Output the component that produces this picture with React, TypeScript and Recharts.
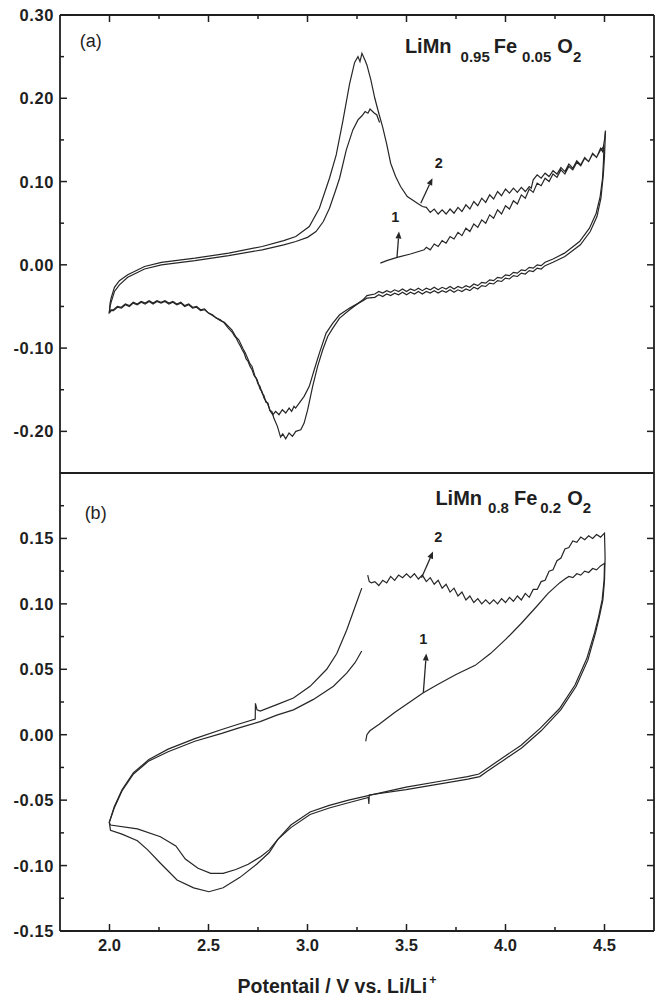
import React from 'react';
import { LineChart, Line, XAxis, YAxis, ReferenceDot, ReferenceLine, Label } from 'recharts';

type Pt = [number, number];

// ---------- Panel (a): LiMn0.95Fe0.05O2  [potential V, current] ----------
const aCycle1: Pt[] = [
  [3.368, 0.002], [3.40, 0.005], [3.453, 0.009], [3.52, 0.013], [3.589, 0.018],
  [3.60, 0.021], [3.62, 0.018], [3.64, 0.025], [3.66, 0.022], [3.68, 0.029], [3.70, 0.026], [3.72, 0.034],
  [3.74, 0.031], [3.76, 0.039], [3.78, 0.035], [3.80, 0.044], [3.82, 0.040], [3.84, 0.049], [3.86, 0.045],
  [3.88, 0.054], [3.90, 0.050], [3.92, 0.060], [3.94, 0.056], [3.96, 0.066], [3.98, 0.061], [4.00, 0.071],
  [4.02, 0.067], [4.04, 0.077], [4.06, 0.073], [4.08, 0.084], [4.10, 0.080], [4.12, 0.091], [4.14, 0.087],
  [4.16, 0.098], [4.18, 0.095], [4.20, 0.104], [4.22, 0.100], [4.24, 0.109], [4.26, 0.105], [4.28, 0.114],
  [4.30, 0.109], [4.32, 0.118], [4.34, 0.114], [4.36, 0.123], [4.38, 0.119], [4.40, 0.128], [4.42, 0.124],
  [4.44, 0.133], [4.46, 0.129], [4.48, 0.138], [4.497, 0.142],
  [4.495, 0.125], [4.49, 0.104], [4.478, 0.082], [4.458, 0.062], [4.424, 0.044], [4.374, 0.028],
  [4.298, 0.014], [4.24, 0.007],
  [4.20, 0.003], [4.18, -0.001], [4.16, 0.000], [4.14, -0.004], [4.12, -0.003], [4.10, -0.007], [4.08, -0.006],
  [4.06, -0.010], [4.04, -0.009], [4.02, -0.013], [4.00, -0.012], [3.98, -0.016], [3.96, -0.015], [3.94, -0.019],
  [3.92, -0.018], [3.90, -0.022], [3.88, -0.021], [3.86, -0.025], [3.84, -0.023], [3.82, -0.027], [3.80, -0.025],
  [3.78, -0.028], [3.76, -0.026], [3.74, -0.029], [3.72, -0.026], [3.70, -0.029], [3.68, -0.027], [3.66, -0.030],
  [3.64, -0.027], [3.62, -0.030], [3.60, -0.028], [3.58, -0.031], [3.56, -0.028], [3.54, -0.031], [3.52, -0.029],
  [3.50, -0.032], [3.48, -0.029], [3.46, -0.032], [3.44, -0.030], [3.42, -0.033], [3.40, -0.031], [3.38, -0.034],
  [3.36, -0.032], [3.34, -0.035], [3.30, -0.037], [3.28, -0.042],
  [3.213, -0.054], [3.162, -0.064], [3.128, -0.076], [3.102, -0.086], [3.077, -0.102], [3.051, -0.122],
  [3.026, -0.146], [3.001, -0.174], [2.983, -0.190], [2.966, -0.198], [2.941, -0.200], [2.924, -0.206],
  [2.907, -0.202], [2.89, -0.209], [2.875, -0.203], [2.864, -0.207], [2.848, -0.194],
  [2.83, -0.184], [2.82, -0.176], [2.81, -0.175], [2.80, -0.166], [2.79, -0.165], [2.78, -0.157], [2.77, -0.154],
  [2.76, -0.146], [2.75, -0.143], [2.74, -0.136], [2.73, -0.133], [2.72, -0.126], [2.71, -0.122], [2.70, -0.116],
  [2.69, -0.113], [2.68, -0.106], [2.67, -0.102], [2.66, -0.097], [2.65, -0.093], [2.64, -0.088], [2.63, -0.085],
  [2.62, -0.081], [2.60, -0.076], [2.58, -0.070],
  [2.56, -0.066], [2.54, -0.064], [2.52, -0.060], [2.50, -0.058], [2.48, -0.053], [2.46, -0.054], [2.44, -0.050],
  [2.42, -0.051], [2.40, -0.047], [2.38, -0.049], [2.36, -0.045], [2.34, -0.047], [2.32, -0.044], [2.30, -0.046],
  [2.28, -0.043], [2.26, -0.045], [2.24, -0.043], [2.22, -0.046], [2.20, -0.043], [2.18, -0.046], [2.16, -0.044],
  [2.14, -0.047], [2.12, -0.045], [2.10, -0.049], [2.08, -0.047], [2.06, -0.051], [2.04, -0.050], [2.02, -0.054],
  [2.008, -0.054], [1.999, -0.057],
  [2.003, -0.046], [2.008, -0.040], [2.025, -0.027], [2.05, -0.019], [2.092, -0.012], [2.177, -0.002],
  [2.262, 0.003], [2.432, 0.008], [2.602, 0.014], [2.771, 0.022], [2.88, 0.029], [2.941, 0.034],
  [3.009, 0.046], [3.06, 0.068], [3.111, 0.104], [3.145, 0.132], [3.178, 0.172], [3.213, 0.218],
  [3.238, 0.243], [3.255, 0.250], [3.265, 0.244], [3.275, 0.254], [3.29, 0.246], [3.30, 0.240],
  [3.32, 0.222], [3.34, 0.200], [3.36, 0.182], [3.38, 0.165], [3.40, 0.145], [3.42, 0.122],
  [3.445, 0.106], [3.47, 0.094], [3.504, 0.082], [3.555, 0.074], [3.58, 0.070],
  [3.60, 0.069], [3.62, 0.063], [3.64, 0.067], [3.66, 0.061], [3.68, 0.066], [3.70, 0.061], [3.72, 0.067],
  [3.74, 0.062], [3.76, 0.069], [3.78, 0.064], [3.80, 0.072], [3.82, 0.067], [3.84, 0.076], [3.86, 0.071],
  [3.88, 0.080], [3.90, 0.075], [3.92, 0.084], [3.94, 0.079], [3.96, 0.088], [3.98, 0.083], [4.00, 0.091],
  [4.02, 0.086], [4.04, 0.092], [4.06, 0.087], [4.08, 0.093], [4.10, 0.088], [4.12, 0.094], [4.13, 0.092],
  [4.14, 0.102], [4.16, 0.108], [4.18, 0.104], [4.20, 0.110], [4.22, 0.106], [4.24, 0.113], [4.26, 0.109],
  [4.28, 0.117], [4.30, 0.112], [4.32, 0.121], [4.34, 0.116], [4.36, 0.125], [4.38, 0.120], [4.40, 0.129],
  [4.42, 0.124], [4.44, 0.134], [4.46, 0.129], [4.48, 0.140], [4.49, 0.136], [4.50, 0.150], [4.505, 0.161],
];

const aCycle2: Pt[] = [
  [4.505, 0.161], [4.50, 0.130], [4.494, 0.108], [4.482, 0.080], [4.462, 0.058], [4.428, 0.040],
  [4.378, 0.024], [4.30, 0.010], [4.24, 0.003],
  [4.20, -0.001], [4.18, -0.005], [4.16, -0.004], [4.14, -0.008], [4.12, -0.007], [4.10, -0.011], [4.08, -0.010],
  [4.06, -0.014], [4.04, -0.013], [4.02, -0.017], [4.00, -0.016], [3.98, -0.020], [3.96, -0.019], [3.94, -0.023],
  [3.92, -0.022], [3.90, -0.026], [3.88, -0.025], [3.86, -0.029], [3.84, -0.027], [3.82, -0.031], [3.80, -0.029],
  [3.78, -0.032], [3.76, -0.030], [3.74, -0.033], [3.72, -0.030], [3.70, -0.033], [3.68, -0.031], [3.66, -0.034],
  [3.64, -0.031], [3.62, -0.034], [3.60, -0.032], [3.58, -0.035], [3.56, -0.032], [3.54, -0.035], [3.52, -0.033],
  [3.50, -0.036], [3.48, -0.033], [3.46, -0.036], [3.44, -0.034], [3.42, -0.037], [3.40, -0.035], [3.38, -0.038],
  [3.36, -0.036], [3.34, -0.039], [3.30, -0.040], [3.28, -0.043],
  [3.213, -0.052], [3.162, -0.060], [3.128, -0.070], [3.094, -0.082], [3.06, -0.106], [3.034, -0.126],
  [3.009, -0.146], [2.983, -0.158], [2.958, -0.166], [2.94, -0.172], [2.932, -0.170], [2.92, -0.176],
  [2.907, -0.172], [2.89, -0.178], [2.873, -0.174], [2.856, -0.180], [2.839, -0.176], [2.825, -0.180],
  [2.813, -0.176], [2.797, -0.166], [2.78, -0.160], [2.77, -0.152], [2.76, -0.149], [2.746, -0.138],
  [2.735, -0.134], [2.72, -0.122], [2.71, -0.119], [2.686, -0.106], [2.675, -0.101], [2.653, -0.090],
  [2.64, -0.087], [2.618, -0.078], [2.58, -0.069],
  [2.56, -0.067], [2.54, -0.064], [2.52, -0.061], [2.50, -0.058], [2.48, -0.054], [2.46, -0.055], [2.44, -0.051],
  [2.42, -0.052], [2.40, -0.048], [2.38, -0.050], [2.36, -0.046], [2.34, -0.048], [2.32, -0.045], [2.30, -0.047],
  [2.28, -0.044], [2.26, -0.046], [2.24, -0.044], [2.22, -0.047], [2.20, -0.044], [2.18, -0.047], [2.16, -0.045],
  [2.14, -0.048], [2.12, -0.046], [2.10, -0.050], [2.08, -0.048], [2.06, -0.052], [2.04, -0.051], [2.02, -0.055],
  [2.008, -0.055], [1.999, -0.058],
  [2.003, -0.050], [2.008, -0.045], [2.025, -0.032], [2.05, -0.024], [2.092, -0.015], [2.177, -0.005],
  [2.262, 0.000], [2.432, 0.005], [2.602, 0.011], [2.771, 0.018], [2.88, 0.024], [2.941, 0.028],
  [3.0, 0.033], [3.043, 0.040], [3.08, 0.052], [3.111, 0.068], [3.14, 0.088], [3.162, 0.104],
  [3.196, 0.138], [3.229, 0.162], [3.255, 0.174], [3.275, 0.179], [3.291, 0.184], [3.305, 0.182],
  [3.316, 0.187], [3.334, 0.183], [3.35, 0.180], [3.364, 0.171],
];

// ---------- Panel (b): LiMn0.8Fe0.2O2 ----------
const bCycle1: Pt[] = [
  [3.294, -0.005], [3.300, 0.000], [3.315, 0.003], [3.362, 0.008], [3.44, 0.017], [3.517, 0.025],
  [3.585, 0.032], [3.653, 0.038], [3.75, 0.046], [3.847, 0.053], [3.924, 0.062], [4.002, 0.073],
  [4.079, 0.085], [4.157, 0.098], [4.215, 0.108], [4.273, 0.116],
  [4.30, 0.119], [4.32, 0.121], [4.34, 0.120], [4.36, 0.123], [4.38, 0.122], [4.40, 0.125], [4.42, 0.124],
  [4.44, 0.127], [4.46, 0.126], [4.48, 0.129], [4.50, 0.131],
  [4.498, 0.118], [4.488, 0.103], [4.47, 0.090], [4.45, 0.078], [4.41, 0.058], [4.351, 0.038],
  [4.273, 0.020], [4.176, 0.005], [4.079, -0.008], [3.982, -0.018], [3.905, -0.026], [3.866, -0.030],
  [3.808, -0.032], [3.692, -0.035], [3.498, -0.040], [3.323, -0.046], [3.207, -0.050], [3.11, -0.054],
  [3.013, -0.059], [2.916, -0.069], [2.85, -0.080], [2.807, -0.090], [2.743, -0.099], [2.659, -0.109],
  [2.574, -0.117], [2.502, -0.120], [2.425, -0.117], [2.341, -0.111], [2.256, -0.098], [2.193, -0.088],
  [2.141, -0.081], [2.063, -0.076], [2.005, -0.073], [1.999, -0.067],
  [2.024, -0.055], [2.063, -0.042], [2.121, -0.029], [2.199, -0.019], [2.296, -0.011], [2.431, -0.003],
  [2.567, 0.004], [2.65, 0.008], [2.736, 0.012], [2.737, 0.024], [2.745, 0.019], [2.761, 0.018],
  [2.845, 0.023], [2.929, 0.028], [3.013, 0.037], [3.097, 0.050], [3.148, 0.062], [3.198, 0.080],
  [3.248, 0.101], [3.274, 0.112],
];

const bCycle2: Pt[] = [
  [3.304, 0.122], [3.312, 0.117], [3.323, 0.116],
  [3.34, 0.117], [3.36, 0.114], [3.38, 0.118], [3.40, 0.116], [3.42, 0.121], [3.44, 0.118], [3.46, 0.122],
  [3.48, 0.120], [3.50, 0.123], [3.52, 0.120], [3.54, 0.123], [3.56, 0.119], [3.58, 0.122], [3.60, 0.117],
  [3.62, 0.120], [3.64, 0.115], [3.66, 0.118], [3.68, 0.112], [3.70, 0.115], [3.72, 0.109], [3.74, 0.112],
  [3.76, 0.106], [3.78, 0.109], [3.80, 0.103], [3.82, 0.106], [3.84, 0.101], [3.86, 0.104], [3.88, 0.100],
  [3.90, 0.103], [3.92, 0.100], [3.94, 0.103], [3.96, 0.100], [3.98, 0.104], [4.00, 0.101], [4.02, 0.105],
  [4.04, 0.102], [4.06, 0.106], [4.08, 0.103], [4.10, 0.108], [4.12, 0.105], [4.14, 0.111], [4.16, 0.111],
  [4.18, 0.117], [4.20, 0.118], [4.22, 0.125], [4.24, 0.126], [4.26, 0.133], [4.28, 0.135], [4.30, 0.142],
  [4.32, 0.143], [4.34, 0.148], [4.36, 0.147], [4.38, 0.151], [4.40, 0.149], [4.42, 0.152], [4.44, 0.150],
  [4.46, 0.153], [4.48, 0.151], [4.50, 0.154],
  [4.503, 0.135], [4.50, 0.118], [4.492, 0.103], [4.474, 0.090], [4.455, 0.078], [4.416, 0.057],
  [4.357, 0.037], [4.279, 0.019], [4.18, 0.003], [4.083, -0.010], [3.985, -0.020], [3.908, -0.028],
  [3.87, -0.032], [3.81, -0.034], [3.692, -0.037], [3.498, -0.042], [3.312, -0.046], [3.31, -0.053],
  [3.307, -0.048], [3.207, -0.052], [3.11, -0.056], [3.013, -0.061], [2.916, -0.071], [2.85, -0.080],
  [2.807, -0.088], [2.765, -0.093], [2.701, -0.099], [2.638, -0.103], [2.574, -0.106], [2.511, -0.106],
  [2.447, -0.102], [2.383, -0.095], [2.335, -0.085], [2.257, -0.078], [2.141, -0.072], [2.005, -0.069],
  [1.999, -0.067],
  [2.024, -0.056], [2.063, -0.043], [2.121, -0.030], [2.199, -0.020], [2.296, -0.013], [2.431, -0.005],
  [2.567, 0.001], [2.65, 0.005], [2.761, 0.010], [2.845, 0.015], [2.929, 0.019], [3.03, 0.027],
  [3.131, 0.037], [3.198, 0.047], [3.24, 0.055], [3.274, 0.064],
];

// ---------- axes ----------
const xDomain: Pt = [1.75, 4.75];
const xTicks = [2.0, 2.25, 2.5, 2.75, 3.0, 3.25, 3.5, 3.75, 4.0, 4.25, 4.5];
const xMajor = [2.0, 2.5, 3.0, 3.5, 4.0, 4.5];
const aYDomain: Pt = [-0.25, 0.3];
const aYTicks = [-0.2, -0.15, -0.1, -0.05, 0, 0.05, 0.1, 0.15, 0.2, 0.25, 0.3];
const aYMajor = [-0.2, -0.1, 0, 0.1, 0.2, 0.3];
const bYDomain: Pt = [-0.15, 0.2];
const bYTicks = [-0.15, -0.125, -0.1, -0.075, -0.05, -0.025, 0, 0.025, 0.05, 0.075, 0.1, 0.125, 0.15, 0.175];
const bYMajor = [-0.15, -0.1, -0.05, 0, 0.05, 0.1, 0.15];

// ---------- annotations ----------
const aArrows: [Pt, Pt][] = [[[3.452, 0.009], [3.462, 0.040]], [[3.572, 0.074], [3.631, 0.104]]];
const aNumLabels: [string, number, number][] = [['1', 3.444, 0.058], ['2', 3.663, 0.122]];
const bArrows: [Pt, Pt][] = [[[3.585, 0.032], [3.600, 0.062]], [[3.576, 0.120], [3.634, 0.140]]];
const bNumLabels: [string, number, number][] = [['1', 3.585, 0.073], ['2', 3.66, 0.151]];
const panelTags: [string, number, number][] = [['(a)', 1.905, 0.269], ['(b)', 1.93, 0.170]];
const aFormula = { main: ['LiMn', 'Fe', 'O'], subs: ['0.95', '0.05', '2'], gaps: [9, 4, 5, 6], x: 3.492, y: 0.2545 };
const bFormula = { main: ['LiMn', 'Fe', 'O'], subs: ['0.8', '0.2', '2'], gaps: [6, 5, 3, 6], x: 3.646, y: 0.1756 };
const xTitle = 'Potentail / V vs. Li/Li';

const FONT = '"Liberation Sans", Arial, Helvetica, sans-serif';
const INK = '#1f1f1f';
const LINE = '#262626';
const axisStyle = { stroke: INK, strokeWidth: 1.8 };

const rows = (pts: Pt[]) => pts.map(([v, i]) => ({ v, i }));
const isMajor = (val: number, majors: number[]) => majors.some((m) => Math.abs(m - val) < 1e-6);

function makeTick(side: 'left' | 'right' | 'top' | 'bottom', majors: number[], digits: number | null) {
  return (props: any) => {
    const { x, y, payload } = props;
    const major = isMajor(payload.value, majors);
    const len = major ? 7 : 4;
    let line: any = null;
    if (side === 'left') line = <line x1={x} y1={y} x2={x + len} y2={y} stroke={INK} strokeWidth={1.5} />;
    if (side === 'right') line = <line x1={x} y1={y} x2={x - len} y2={y} stroke={INK} strokeWidth={1.5} />;
    if (side === 'top') line = <line x1={x} y1={y} x2={x} y2={y + len} stroke={INK} strokeWidth={1.5} />;
    if (side === 'bottom') line = <line x1={x} y1={y} x2={x} y2={y - len} stroke={INK} strokeWidth={1.5} />;
    let label: any = null;
    if (digits !== null && major) {
      const txt = payload.value.toFixed(digits);
      if (side === 'left')
        label = (
          <text x={x - 6} y={y} dy={6} textAnchor="end" fontFamily={FONT} fontWeight="bold" fontSize={16.5} letterSpacing={0.6} fill={INK}>
            {txt}
          </text>
        );
      if (side === 'bottom')
        label = (
          <text x={x} y={y + 20} textAnchor="middle" fontFamily={FONT} fontWeight="bold" fontSize={16.5} fill={INK}>
            {txt}
          </text>
        );
    }
    return (
      <g>
        {line}
        {label}
      </g>
    );
  };
}

const Arrow = (props: any) => {
  const { x1, y1, x2, y2 } = props;
  const ang = Math.atan2(y2 - y1, x2 - x1);
  const L = 7;
  const W = 3;
  const bx = x2 - L * Math.cos(ang);
  const by = y2 - L * Math.sin(ang);
  const p1 = `${bx + W * Math.sin(ang)},${by - W * Math.cos(ang)}`;
  const p2 = `${bx - W * Math.sin(ang)},${by + W * Math.cos(ang)}`;
  return (
    <g>
      <line x1={x1} y1={y1} x2={bx} y2={by} stroke={LINE} strokeWidth={1.3} />
      <polygon points={`${x2},${y2} ${p1} ${p2}`} fill={LINE} />
    </g>
  );
};

const centeredText = (txt: string, size: number, weight: string) => (props: any) => (
  <text x={props.cx} y={props.cy} dy={size * 0.35} textAnchor="middle" fontFamily={FONT} fontSize={size} fontWeight={weight} fill={INK}>
    {txt}
  </text>
);

const formulaText = (f: { main: string[]; subs: string[]; gaps: number[] }, subShift: number) => (props: any) => (
  <text x={props.cx} y={props.cy} fontFamily={FONT} fontWeight="bold" fontSize={20} fill={INK}>
    {f.main[0]}
    <tspan dx={f.gaps[0]} dy={subShift} fontSize={15}>{f.subs[0]}</tspan>
    <tspan dx={f.gaps[1]} dy={-subShift} fontSize={20}>{f.main[1]}</tspan>
    <tspan dx={f.gaps[2]} dy={subShift} fontSize={15}>{f.subs[1]}</tspan>
    <tspan dx={f.gaps[3]} dy={-subShift} fontSize={20}>{f.main[2]}</tspan>
    <tspan dy={subShift} fontSize={15}>{f.subs[2]}</tspan>
  </text>
);

const TitleLabel = (props: any) => {
  const vb = props.viewBox || { x: 60, y: 931, width: 594, height: 76 };
  return (
    <text x={vb.x + 277} y={vb.y + 62} textAnchor="middle" fontFamily={FONT} fontWeight="bold" fontSize={19.5} fill={INK}>
      {xTitle}
      <tspan dx={2} dy={-9} fontSize={12.5}>+</tspan>
    </text>
  );
};

const seriesProps = {
  type: 'linear' as const,
  dataKey: 'i',
  stroke: LINE,
  strokeWidth: 1.2,
  dot: false,
  activeDot: false,
  isAnimationActive: false,
  xAxisId: 'x',
  yAxisId: 'y',
};

const frameAxisProps = {
  type: 'number' as const,
  interval: 0 as const,
  allowDataOverflow: true,
  axisLine: axisStyle,
  tickLine: false,
  tickSize: 0,
  tickMargin: 0,
};

export default function App() {
  return (
    <div style={{ position: 'absolute', left: 0, top: 0, width: 656, height: 1007, background: '#fff' }}>
      <div style={{ position: 'absolute', left: 0, top: 0 }}>
        <LineChart width={656} height={473} margin={{ top: 14, right: 1, bottom: 0, left: 0 }}>
          <XAxis
            {...frameAxisProps}
            xAxisId="x"
            dataKey="v"
            orientation="top"
            domain={xDomain}
            ticks={xTicks}
            height={1}
            tick={makeTick('top', xMajor, null)}
          />
          <YAxis {...frameAxisProps} yAxisId="y" domain={aYDomain} ticks={aYTicks} width={60} tick={makeTick('left', aYMajor, 2)} />
          <YAxis
            {...frameAxisProps}
            yAxisId="r"
            orientation="right"
            domain={aYDomain}
            ticks={aYTicks}
            width={1}
            tick={makeTick('right', aYMajor, null)}
          />
          <Line {...seriesProps} data={rows(aCycle1)} />
          <Line {...seriesProps} data={rows(aCycle2)} />
          {aArrows.map((a, k) => (
            <ReferenceLine key={'aa' + k} xAxisId="x" yAxisId="y" segment={[{ x: a[0][0], y: a[0][1] }, { x: a[1][0], y: a[1][1] }]} shape={Arrow} />
          ))}
          {aNumLabels.map((l, k) => (
            <ReferenceDot key={'al' + k} xAxisId="x" yAxisId="y" x={l[1]} y={l[2]} r={0} shape={centeredText(l[0], 14.5, 'bold')} />
          ))}
          <ReferenceDot xAxisId="x" yAxisId="y" x={panelTags[0][1]} y={panelTags[0][2]} r={0} shape={centeredText(panelTags[0][0], 18, 'normal')} />
          <ReferenceDot xAxisId="x" yAxisId="y" x={aFormula.x} y={aFormula.y} r={0} shape={formulaText(aFormula, 9)} />
        </LineChart>
      </div>
      <div style={{ position: 'absolute', left: 0, top: 472 }}>
        <LineChart width={656} height={535} margin={{ top: 0, right: 1, bottom: 0, left: 0 }}>
          <XAxis
            {...frameAxisProps}
            xAxisId="x"
            dataKey="v"
            orientation="bottom"
            domain={xDomain}
            ticks={xTicks}
            height={76}
            tick={makeTick('bottom', xMajor, 1)}
          >
            <Label content={<TitleLabel />} />
          </XAxis>
          <XAxis
            {...frameAxisProps}
            xAxisId="t"
            orientation="top"
            domain={xDomain}
            ticks={xTicks}
            height={1}
            tick={makeTick('top', xMajor, null)}
          />
          <YAxis {...frameAxisProps} yAxisId="y" domain={bYDomain} ticks={bYTicks} width={60} tick={makeTick('left', bYMajor, 2)} />
          <YAxis
            {...frameAxisProps}
            yAxisId="r"
            orientation="right"
            domain={bYDomain}
            ticks={bYTicks}
            width={1}
            tick={makeTick('right', bYMajor, null)}
          />
          <Line {...seriesProps} data={rows(bCycle1)} />
          <Line {...seriesProps} data={rows(bCycle2)} />
          {bArrows.map((a, k) => (
            <ReferenceLine key={'ba' + k} xAxisId="x" yAxisId="y" segment={[{ x: a[0][0], y: a[0][1] }, { x: a[1][0], y: a[1][1] }]} shape={Arrow} />
          ))}
          {bNumLabels.map((l, k) => (
            <ReferenceDot key={'bl' + k} xAxisId="x" yAxisId="y" x={l[1]} y={l[2]} r={0} shape={centeredText(l[0], 14.5, 'bold')} />
          ))}
          <ReferenceDot xAxisId="x" yAxisId="y" x={panelTags[1][1]} y={panelTags[1][2]} r={0} shape={centeredText(panelTags[1][0], 18, 'normal')} />
          <ReferenceDot xAxisId="x" yAxisId="y" x={bFormula.x} y={bFormula.y} r={0} shape={formulaText(bFormula, 8)} />
        </LineChart>
      </div>
    </div>
  );
}
